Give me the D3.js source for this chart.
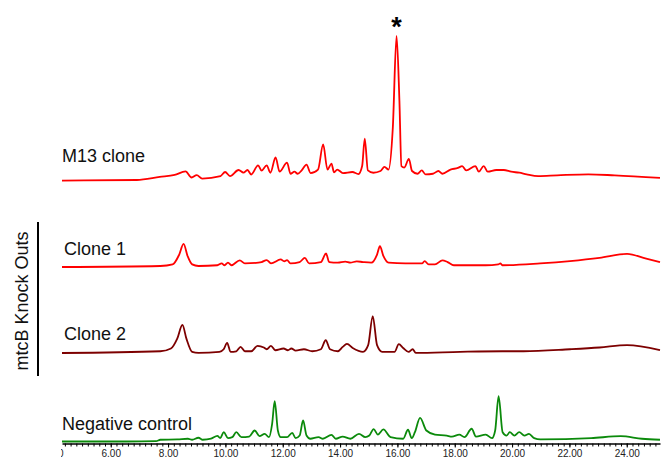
<!DOCTYPE html>
<html>
<head>
<meta charset="utf-8">
<script src="https://cdn.jsdelivr.net/npm/d3@7"></script>
<style>
  body { margin: 0; background: #fff; }
  svg { display: block; font-family: Arial, "Liberation Sans", sans-serif; }
</style>
</head>
<body>
<div id="chart"></div>
<script>
// retention time (min) vs signal (relative units)
var m13Trace = [[4.30,0.3],[6.91,0.7],[7.71,2.8],[8.23,4.2],[8.61,6.6],[8.82,2.4],[9.00,4.1],[9.19,1.7],
  [9.83,3.4],[9.99,6.2],[10.16,3.4],[10.46,7.6],[10.63,5.8],[10.77,7.6],[10.90,4.5],[11.14,10.8],
  [11.26,7.2],[11.44,10.8],[11.57,5.7],[11.75,16.2],[11.89,6.4],[12.15,12.7],[12.27,5.0],[12.41,6.4],
  [12.52,5.0],[12.66,7.3],[12.83,11.3],[12.97,5.5],[13.23,7.9],[13.41,25.2],[13.56,7.9],[13.70,12.0],
  [13.79,5.9],[13.90,7.9],[14.10,5.5],[14.43,6.2],[14.64,4.8],[14.77,10.3],[14.86,29.2],[14.97,7.3],
  [15.16,5.7],[15.41,6.9],[15.55,9.7],[15.69,7.9],[15.84,36.8],[15.97,100],[16.07,55.4],[16.14,10.3],
  [16.24,9.3],[16.40,15.2],[16.51,6.9],[16.70,5.0],[16.85,7.3],[16.98,4.6],[17.24,5.0],[17.43,6.9],
  [17.57,5.0],[17.85,7.9],[18.11,9.0],[18.26,10.3],[18.40,7.3],[18.72,10.3],[18.84,6.4],[19.01,10.3],
  [19.15,6.4],[19.45,7.6],[19.71,7.6],[19.97,6.4],[20.25,5.7],[20.51,4.6],[20.91,3.4],[21.57,3.9],
  [22.66,4.6],[23.58,3.9],[25.16,2.2]];

var clone1Trace = [[4.30,0],[7.73,0.7],[8.16,1.8],[8.39,8.6],[8.54,15.9],[8.68,7.6],[8.84,1.8],[9.06,0.7],
  [9.72,1.2],[9.87,2.5],[9.97,1.2],[10.09,3.0],[10.21,1.2],[10.50,4.6],[10.68,2.5],[11.15,3.0],
  [11.26,3.4],[11.44,4.8],[11.59,2.5],[11.93,5.2],[12.05,3.9],[12.15,4.8],[12.27,2.5],[12.59,3.4],
  [12.77,6.3],[12.92,2.5],[13.33,3.4],[13.51,9.3],[13.62,3.4],[13.92,3.0],[14.18,3.7],[14.36,3.0],
  [14.58,3.9],[14.80,3.4],[15.09,3.0],[15.29,8.6],[15.39,14.3],[15.51,7.6],[15.69,3.0],[16.28,2.5],
  [16.86,2.5],[16.95,4.1],[17.09,1.8],[17.31,1.8],[17.57,4.6],[17.75,3.4],[17.97,1.2],[19.08,1.2],
  [19.52,1.8],[19.59,2.5],[19.66,1.2],[20.98,2.5],[22.02,4.1],[23.05,6.3],[24.01,9.1],[24.68,5.7],
  [25.16,3.4]];

var clone2Trace = [[4.30,0],[7.73,1.2],[8.10,3.1],[8.32,9.9],[8.50,19.4],[8.64,9.9],[8.84,0.8],[9.06,0.1],
  [9.79,0.8],[9.94,2.6],[10.06,7.0],[10.18,0.8],[10.38,1.2],[10.53,4.2],[10.68,1.2],[10.90,1.2],
  [11.12,4.9],[11.34,3.8],[11.44,2.6],[11.59,4.9],[11.74,1.9],[12.03,3.1],[12.18,1.9],[12.30,3.1],
  [12.45,1.7],[12.74,2.6],[13.03,1.2],[13.33,2.6],[13.50,8.8],[13.65,2.6],[13.92,1.2],[14.09,4.2],
  [14.24,6.3],[14.44,3.5],[14.80,0.8],[14.98,5.4],[15.14,25.4],[15.29,5.4],[15.47,0.8],[15.90,0.8],
  [16.05,6.1],[16.20,3.5],[16.39,0.8],[16.53,2.6],[16.64,0.1],[18.19,0.8],[19.66,1.2],[20.40,1.2],
  [22.02,2.6],[23.05,3.8],[24.01,5.4],[25.16,1.9]];

var negTrace = [[4.30,0],[6.55,0],[7.58,0.2],[7.73,1.2],[8.32,1.4],[8.69,1.9],[8.84,1.2],[9.06,2.6],
  [9.21,1.2],[9.50,1.9],[9.72,3.9],[9.82,2.3],[9.94,6.4],[10.09,2.3],[10.24,3.0],[10.38,6.4],
  [10.56,3.0],[10.83,3.4],[11.02,7.6],[11.19,3.7],[11.37,5.3],[11.52,3.0],[11.63,12.2],[11.72,27.8],
  [11.83,7.6],[11.93,3.0],[12.15,3.0],[12.33,6.0],[12.45,2.3],[12.59,4.1],[12.71,14.5],[12.83,4.1],
  [12.96,1.9],[13.25,3.0],[13.40,1.9],[13.70,4.6],[13.85,1.9],[14.09,3.4],[14.36,1.9],[14.66,5.3],
  [14.88,3.0],[15.02,4.1],[15.17,8.5],[15.32,4.8],[15.51,8.3],[15.76,3.0],[16.20,1.9],[16.37,8.1],
  [16.50,2.3],[16.61,6.4],[16.79,16.3],[17.01,7.6],[17.31,4.8],[17.72,4.1],[17.90,3.4],[18.16,4.8],
  [18.34,3.0],[18.59,8.8],[18.74,3.4],[19.08,4.8],[19.30,2.3],[19.41,7.6],[19.53,31.2],[19.67,6.4],
  [19.81,4.1],[19.92,6.4],[20.08,4.1],[20.25,6.4],[20.43,4.1],[20.59,5.3],[20.77,2.3],[20.99,1.4],
  [22.76,2.3],[23.79,3.7],[24.53,1.9],[25.16,1.2]];

var traceNames = ["M13 clone", "Clone 1", "Clone 2", "Negative control"];
var traces = [m13Trace, clone1Trace, clone2Trace, negTrace];
var groupLabel = "mtcB Knock Outs";
var majorTicks = [4, 6, 8, 10, 12, 14, 16, 18, 20, 22, 24];
var timeRange = [4.30, 25.16];

var W = 661, H = 466;
var rowBase = [181, 267, 353, 441.5];
var rowColor = ["#ff0000", "#ff0000", "#7d0000", "#0b8a0b"];
var labelY = [162, 255, 340, 430];

var svg = d3.select("#chart").append("svg")
    .attr("width", W)
    .attr("height", H);

svg.append("defs").append("clipPath").attr("id", "clipL")
  .append("rect").attr("x", 61).attr("y", 0).attr("width", W - 61).attr("height", H);

var x = d3.scaleLinear().domain(timeRange).range([62, 660]);

// one intensity scale per row, same gain for all
traces.forEach(function(tr, i) {
  var y = d3.scaleLinear().domain([0, 100]).range([rowBase[i], rowBase[i] - 145]);
  var line = d3.line()
      .x(function(d) { return x(d[0]); })
      .y(function(d) { return y(d[1]); })
      .curve(d3.curveMonotoneX);
  svg.append("path")
      .datum(tr)
      .attr("d", line)
      .attr("fill", "none")
      .attr("stroke", rowColor[i])
      .attr("stroke-width", 1.8)
      .attr("stroke-linejoin", "round");

  svg.append("text")
      .attr("x", i == 0 || i == 3 ? 62 : 64)
      .attr("y", labelY[i])
      .style("font-size", "18px")
      .style("fill", "#111")
      .text(traceNames[i]);
});

// asterisk over the big peak
svg.append("text")
    .attr("x", x(15.97))
    .attr("y", 36)
    .attr("text-anchor", "middle")
    .style("font-size", "27px")
    .style("font-weight", "bold")
    .text("*");

// bracket for the knock outs
svg.append("line")
    .attr("x1", 38).attr("x2", 38)
    .attr("y1", 222).attr("y2", 376)
    .attr("stroke", "#000")
    .attr("stroke-width", 2);

svg.append("text")
    .attr("transform", "translate(28,301) rotate(-90)")
    .attr("text-anchor", "middle")
    .style("font-size", "18px")
    .style("fill", "#111")
    .text(groupLabel);

// time axis
var axisG = svg.append("g").attr("clip-path", "url(#clipL)");
var minor = d3.range(44, 252, 2).map(function(v) { return v / 10; });

axisG.append("g")
    .attr("transform", "translate(0,443.5)")
    .call(d3.axisBottom(x).tickValues(minor).tickSize(3).tickFormat(""))
    .call(function(g) { g.select(".domain").remove(); });

var ax = axisG.append("g")
    .attr("transform", "translate(0,443.5)")
    .call(d3.axisBottom(x).tickValues(majorTicks).tickSize(4).tickSizeOuter(0).tickFormat(d3.format(".2f")));
ax.select(".domain").attr("stroke-width", 1.5);
ax.selectAll("text")
    .attr("y", 6)
    .style("font-size", "10px")
    .style("font-family", "Arial, 'Liberation Sans', sans-serif")
    .style("fill", "#222");
</script>
</body>
</html>
